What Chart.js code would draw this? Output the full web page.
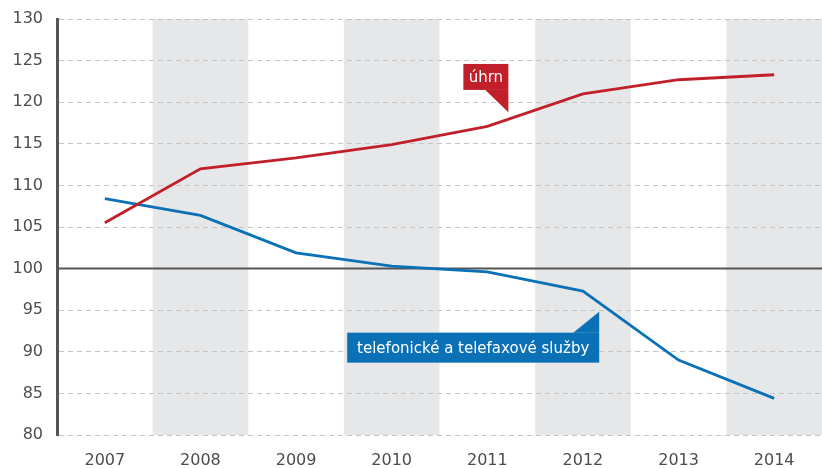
<!DOCTYPE html>
<html>
<head>
<meta charset="utf-8">
<script src="https://cdn.jsdelivr.net/npm/chart.js@4"></script>
<style>
  html, body { margin: 0; padding: 0; background: #fff; }
  #wrap { width: 822px; height: 468px; }
</style>
</head>
<body>
<div id="wrap"><canvas id="canvas"></canvas></div>
<script>
var years = ['2007', '2008', '2009', '2010', '2011', '2012', '2013', '2014'];
var uhrn = [105.5, 112.0, 113.3, 114.9, 117.1, 121.0, 122.7, 123.3];
var telefon = [108.4, 106.4, 101.9, 100.3, 99.6, 97.3, 89.0, 84.4];
var yMin = 80, yMax = 130, yStep = 5;

var RED = '#c1202a';
var BLUE = '#0a71b7';
var FONT = '"DejaVu Sans", sans-serif';

// grey bands behind every second year
var bands = {
  id: 'bands',
  beforeDraw: function (chart) {
    var c = chart.ctx, a = chart.chartArea, x = chart.scales.x;
    var w = (a.right - a.left) / years.length;
    c.save();
    c.fillStyle = '#e6e7e8';
    for (var i = 1; i < years.length; i += 2) {
      var cx = x.getPixelForValue(i);
      c.fillRect(cx - w / 2, a.top, w, a.bottom - a.top);
    }
    c.restore();
  }
};

// solid reference line at 100
var baseLine = {
  id: 'baseLine',
  beforeDatasetsDraw: function (chart) {
    var c = chart.ctx, a = chart.chartArea;
    var y = chart.scales.y.getPixelForValue(100);
    c.save();
    c.strokeStyle = '#555';
    c.lineWidth = 2;
    c.beginPath();
    c.moveTo(a.left, y);
    c.lineTo(a.right, y);
    c.stroke();
    c.restore();
  }
};

// callout labels with a pointer
function callout(c, text, fill, left, top, w, h, tipX, tipY, pointerUp) {
  c.fillStyle = fill;
  c.fillRect(left, top, w, h);
  c.beginPath();
  if (pointerUp) {
    c.moveTo(tipX - 26, top);
    c.lineTo(tipX, top);
  } else {
    c.moveTo(tipX - 23, top + h);
    c.lineTo(tipX, top + h);
  }
  c.lineTo(tipX, tipY);
  c.closePath();
  c.fill();
  c.fillStyle = '#fff';
  c.font = '15px ' + FONT;
  c.textAlign = 'center';
  c.textBaseline = 'middle';
  c.fillText(text, left + w / 2, top + h / 2 + 1);
}

var labels = {
  id: 'labels',
  afterDatasetsDraw: function (chart) {
    var c = chart.ctx, x = chart.scales.x, y = chart.scales.y;
    c.save();
    var rx = x.getPixelForValue(4.22), ry = y.getPixelForValue(124.6);
    callout(c, 'úhrn', RED, rx - 45, ry, 45, 26, rx, y.getPixelForValue(118.8), false);
    var bx = x.getPixelForValue(5.17), by = y.getPixelForValue(92.3);
    callout(c, 'telefonické a telefaxové služby', BLUE, bx - 252, by, 252, 30, bx, y.getPixelForValue(94.8), true);
    c.restore();
  }
};

var ctx = document.getElementById('canvas').getContext('2d');

var chart = new Chart(ctx, {
  type: 'line',
  data: {
    labels: years,
    datasets: [{
      label: 'úhrn',
      data: uhrn,
      borderColor: RED,
      borderWidth: 2.8,
      pointRadius: 0,
      tension: 0
    }, {
      label: 'telefonické a telefaxové služby',
      data: telefon,
      borderColor: BLUE,
      borderWidth: 2.8,
      pointRadius: 0,
      tension: 0
    }]
  },
  options: {
    responsive: true,
    maintainAspectRatio: false,
    animation: false,
    layout: { padding: { top: 19, right: 0, left: 0, bottom: 0 } },
    plugins: {
      legend: { display: false },
      tooltip: { enabled: false }
    },
    scales: {
      x: {
        offset: true,
        grid: { display: false },
        border: { display: false },
        ticks: { color: '#4d4d4d', font: { family: FONT, size: 16 }, padding: 8 },
        afterFit: function (s) { s.height = 33; }
      },
      y: {
        min: yMin,
        max: yMax,
        ticks: { stepSize: yStep, color: '#4d4d4d', font: { family: FONT, size: 16 }, padding: 14 },
        grid: { color: '#c4c4c4', lineWidth: 1, drawTicks: false },
        border: { color: '#555', width: 3, dash: [5, 4] },
        afterFit: function (s) { s.width = 57; s.paddingTop = 0; s.paddingBottom = 0; }
      }
    }
  },
  plugins: [bands, baseLine, labels]
});
</script>
</body>
</html>
